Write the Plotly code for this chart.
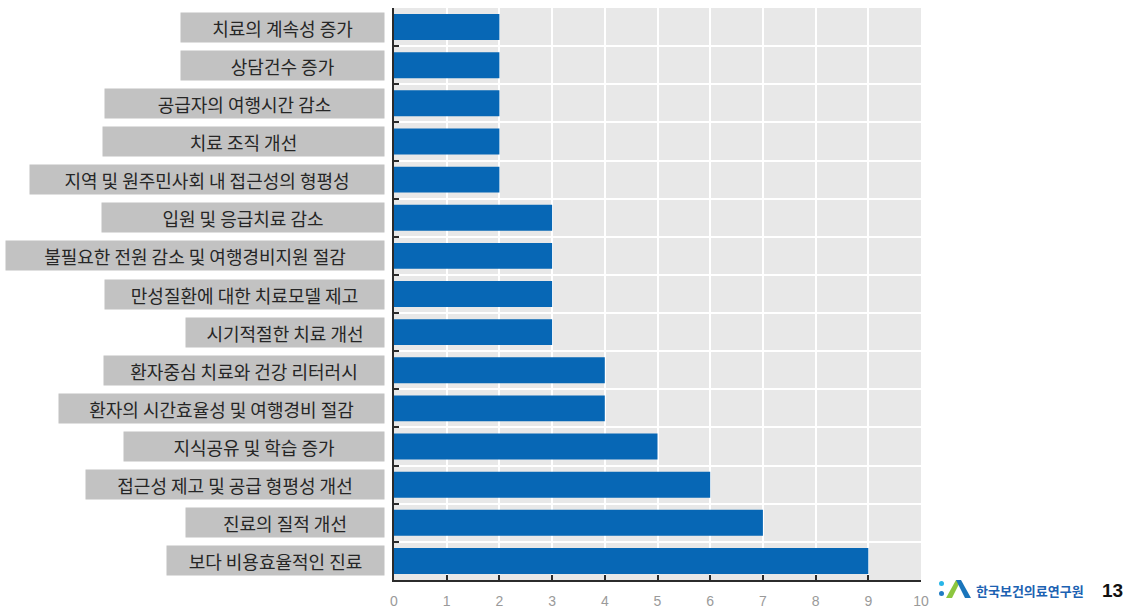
import plotly.graph_objects as go

categories = [
    "치료의 계속성 증가",
    "상담건수 증가",
    "공급자의 여행시간 감소",
    "치료 조직 개선",
    "지역 및 원주민사회 내 접근성의 형평성",
    "입원 및 응급치료 감소",
    "불필요한 전원 감소 및 여행경비지원 절감",
    "만성질환에 대한 치료모델 제고",
    "시기적절한 치료 개선",
    "환자중심 치료와 건강 리터러시",
    "환자의 시간효율성 및 여행경비 절감",
    "지식공유 및 학습 증가",
    "접근성 제고 및 공급 형평성 개선",
    "진료의 질적 개선",
    "보다 비용효율적인 진료",
]
values = [2, 2, 2, 2, 2, 3, 3, 3, 3, 4, 4, 5, 6, 7, 9]
x_ticks = list(range(0, 11))

# label box widths in px (style)
box_widths = [203, 203, 279, 281, 354, 282, 378, 279, 198, 280, 325, 260, 298, 198, 217]

W, H = 1131, 611
L, R, T, B = 394, 210, 8, 31
PW, PH = W - L - R, H - T - B


def px(x):
    return (x - L) / PW


def py(y):
    return (H - B - y) / PH


fig = go.Figure()
fig.add_trace(go.Bar(
    x=values, y=categories, orientation="h",
    marker=dict(color="#0767b5", line=dict(width=0)),
    hoverinfo="x+y",
))

for cat, bw in zip(categories, box_widths):
    fig.add_annotation(
        x=px(385), xref="paper", xanchor="right",
        y=cat, yref="y", yanchor="middle",
        text=cat, showarrow=False,
        width=bw, height=29, align="center", valign="middle",
        bgcolor="#c2c2c2", borderpad=0,
        font=dict(family="Noto Sans CJK KR", size=18, color="#262626"),
    )

# logo
fig.add_shape(type="circle", xref="paper", yref="paper",
              x0=px(939), x1=px(944), y0=py(581), y1=py(586),
              fillcolor="#29b6e8", line=dict(width=0))
fig.add_shape(type="circle", xref="paper", yref="paper",
              x0=px(939), x1=px(944), y0=py(591), y1=py(596),
              fillcolor="#1f7bc4", line=dict(width=0))
fig.add_shape(type="path", xref="paper", yref="paper",
              path=f"M {px(946)} {py(598)} L {px(956)} {py(580)} L {px(961)} {py(580)} L {px(952)} {py(598)} Z",
              fillcolor="#8cc63f", line=dict(width=0))
fig.add_shape(type="path", xref="paper", yref="paper",
              path=f"M {px(956)} {py(580)} L {px(961)} {py(580)} L {px(971)} {py(598)} L {px(965)} {py(598)} Z",
              fillcolor="#1a75bb", line=dict(width=0))
fig.add_annotation(x=px(974), xref="paper", xanchor="left", y=py(590), yref="paper",
                   yanchor="middle", text="<b>한국보건의료연구원</b>", showarrow=False,
                   font=dict(family="Noto Sans CJK KR", size=13, color="#1c62b2"))
fig.add_annotation(x=px(1112), xref="paper", xanchor="center", y=py(590), yref="paper",
                   yanchor="middle", text="<b>13</b>", showarrow=False,
                   font=dict(family="Liberation Sans", size=19, color="#111111"))

fig.update_layout(
    width=W, height=H,
    margin=dict(l=L, r=R, t=T, b=B, pad=0, autoexpand=False),
    paper_bgcolor="white", plot_bgcolor="#e8e8e8",
    bargap=0.32, showlegend=False,
)
fig.update_xaxes(
    range=[0, 10], tickvals=x_ticks, ticktext=[str(v) for v in x_ticks],
    showgrid=True, gridcolor="white", gridwidth=2,
    showline=True, linecolor="#2b2b2b", linewidth=2,
    ticks="inside", ticklen=5, tickwidth=2, tickcolor="#2b2b2b",
    tickfont=dict(family="Liberation Sans", size=14, color="#9a9a9a"),
    ticklabelstandoff=7, zeroline=False, automargin=False,
)
fig.update_yaxes(
    type="category", categoryorder="array", categoryarray=categories,
    autorange="reversed", tickson="boundaries",
    showgrid=True, gridcolor="white", gridwidth=2,
    showline=True, linecolor="#2b2b2b", linewidth=2,
    ticks="inside", ticklen=5, tickwidth=2, tickcolor="#2b2b2b",
    showticklabels=False, automargin=False,
)

fig.write_html("out.html")
